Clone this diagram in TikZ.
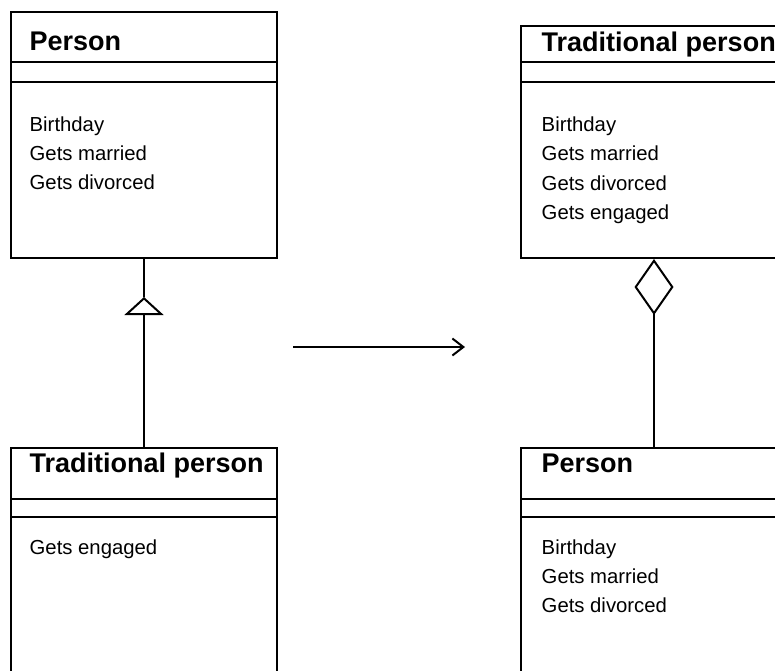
\documentclass[tikz,border=0pt]{standalone}
\usepackage{fontspec}
\setmainfont{Liberation Sans}
\usetikzlibrary{arrows.meta}
\begin{document}
\begin{tikzpicture}[x=1pt,y=-1pt,
  classbox/.style={draw, line width=2pt, minimum width=266pt, anchor=north west, inner sep=0pt},
  classname/.style={anchor=base west, inner sep=0pt, font=\fontsize{27}{30}\selectfont\bfseries},
  member/.style={anchor=base west, inner sep=0pt, font=\fontsize{20.3}{24}\selectfont},
  divider/.style={line width=2pt},
  link/.style={line width=2pt},
]
\useasboundingbox (0,0) rectangle (775,670);
\clip (0,0) rectangle (775,670);

% class frames
\node[classbox, minimum height=246pt] (p1) at (10,11) {};
\node[classbox, minimum height=246pt] (p2) at (10,447) {};
\node[classbox, minimum height=232pt] (p3) at (520,25) {};
\node[classbox, minimum height=246pt] (p4) at (520,447) {};

% compartment dividers
\draw[divider] ([yshift=-51pt]p1.north west) -- ([yshift=-51pt]p1.north east);
\draw[divider] ([yshift=-71pt]p1.north west) -- ([yshift=-71pt]p1.north east);
\draw[divider] ([yshift=-52pt]p2.north west) -- ([yshift=-52pt]p2.north east);
\draw[divider] ([yshift=-70pt]p2.north west) -- ([yshift=-70pt]p2.north east);
\draw[divider] ([yshift=-37pt]p3.north west) -- ([yshift=-37pt]p3.north east);
\draw[divider] ([yshift=-57pt]p3.north west) -- ([yshift=-57pt]p3.north east);
\draw[divider] ([yshift=-52pt]p4.north west) -- ([yshift=-52pt]p4.north east);
\draw[divider] ([yshift=-70pt]p4.north west) -- ([yshift=-70pt]p4.north east);

% class names and operations
\node[classname] (n1) at (29.5,50) {Person};
\node[member] (m1a) at (29.5,131) {Birthday};
\node[member] (m1b) at (29.5,160.3) {Gets married};
\node[member] (m1c) at (29.5,189.5) {Gets divorced};

\node[classname] (n2) at (29.5,472) {Traditional person};
\node[member] (m2a) at (29.5,554.3) {Gets engaged};

\node[classname] (n3) at (541.5,51) {Traditional person};
\node[member] (m3a) at (541.5,131) {Birthday};
\node[member] (m3b) at (541.5,160.5) {Gets married};
\node[member] (m3c) at (541.5,190) {Gets divorced};
\node[member] (m3d) at (541.5,219.5) {Gets engaged};

\node[classname] (n4) at (541.5,472) {Person};
\node[member] (m4a) at (541.5,554.3) {Birthday};
\node[member] (m4b) at (541.5,583.5) {Gets married};
\node[member] (m4c) at (541.5,612.7) {Gets divorced};

% inheritance: Traditional person -> Person
\coordinate (tri) at ([yshift=-38pt]p1.south);
\draw[link, -{Triangle[open,length=18pt,width=39pt]}] (p2.north) -- (tri);
\draw[link] (tri) -- (p1.south);

% aggregation: Person part of Traditional person
\draw[link, -{Diamond[open,length=56pt,width=39pt]}] (p4.north) -- (p3.south);

% refactoring arrow
\coordinate (s) at (293,347);
\coordinate (t) at (465,347);
\draw[link, -{Straight Barb[length=11pt,width=17pt]}] (s) -- (t);
\end{tikzpicture}
\end{document}
